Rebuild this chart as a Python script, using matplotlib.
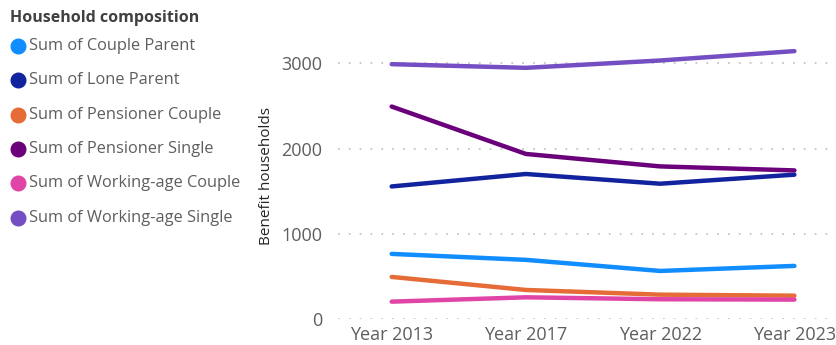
import matplotlib
matplotlib.use('Agg')
import matplotlib.pyplot as plt
from matplotlib.lines import Line2D


plt.rcParams['font.family'] = ['Open Sans', 'DejaVu Sans']

years = ['Year 2013', 'Year 2017', 'Year 2022', 'Year 2023']

couple_parent       = [767, 697, 567, 626]
lone_parent         = [1558, 1704, 1590, 1696]
pensioner_couple    = [497, 344, 289, 277]
pensioner_single    = [2495, 1939, 1793, 1746]
working_age_couple  = [207, 258, 235, 231]
working_age_single  = [2992, 2949, 3035, 3145]

labels = ['Sum of Couple Parent', 'Sum of Lone Parent', 'Sum of Pensioner Couple',
          'Sum of Pensioner Single', 'Sum of Working-age Couple', 'Sum of Working-age Single']
series = [couple_parent, lone_parent, pensioner_couple,
          pensioner_single, working_age_couple, working_age_single]
colors = ['#118DFF', '#12239E', '#E66C37', '#6B007B', '#E044A7', '#744EC2']

yticks = [0, 1000, 2000, 3000]

GREY = '#605E5C'

fig = plt.figure(figsize=(8.36, 3.45), dpi=100)
ax = fig.add_axes([0.4043, 0.0745, 0.5957, 0.828])

x = range(len(years))
for vals, col in zip(series, colors):
    ax.plot(x, vals, color=col, lw=3.2, solid_capstyle='round', solid_joinstyle='round')

ax.set_xlim(-0.4, 3.31)
ax.set_ylim(0, 3350)
ax.set_xticks(list(x))
ax.set_xticklabels(years)
ax.set_yticks(yticks)
ax.tick_params(axis='both', length=0, labelsize=13, colors=GREY)
ax.tick_params(axis='x', pad=5)
ax.tick_params(axis='y', pad=11.5)
for s in ax.spines.values():
    s.set_visible(False)
ax.grid(axis='y', color='#C8C6C4', linestyle=(0, (1, 5)), lw=1.3)
ax.set_axisbelow(True)
ax.set_ylabel('Benefit households', fontsize=11, color='#252423', labelpad=5)

# legend drawn by hand on the left side
fig.text(10/836, 1 - 18/345, 'Household composition', fontsize=11.5, fontweight='bold',
         color='#404040', va='center', ha='left')
for i, (lab, col) in enumerate(zip(labels, colors)):
    yy = 1 - (46 + i * 34.3) / 345
    fig.add_artist(Line2D([18/836], [yy], marker='o', markersize=10.5, color=col,
                          transform=fig.transFigure, lw=0))
    fig.text(29/836, yy, lab, fontsize=11.8, color=GREY, va='center', ha='left')

fig.savefig('out.png', dpi=100)
